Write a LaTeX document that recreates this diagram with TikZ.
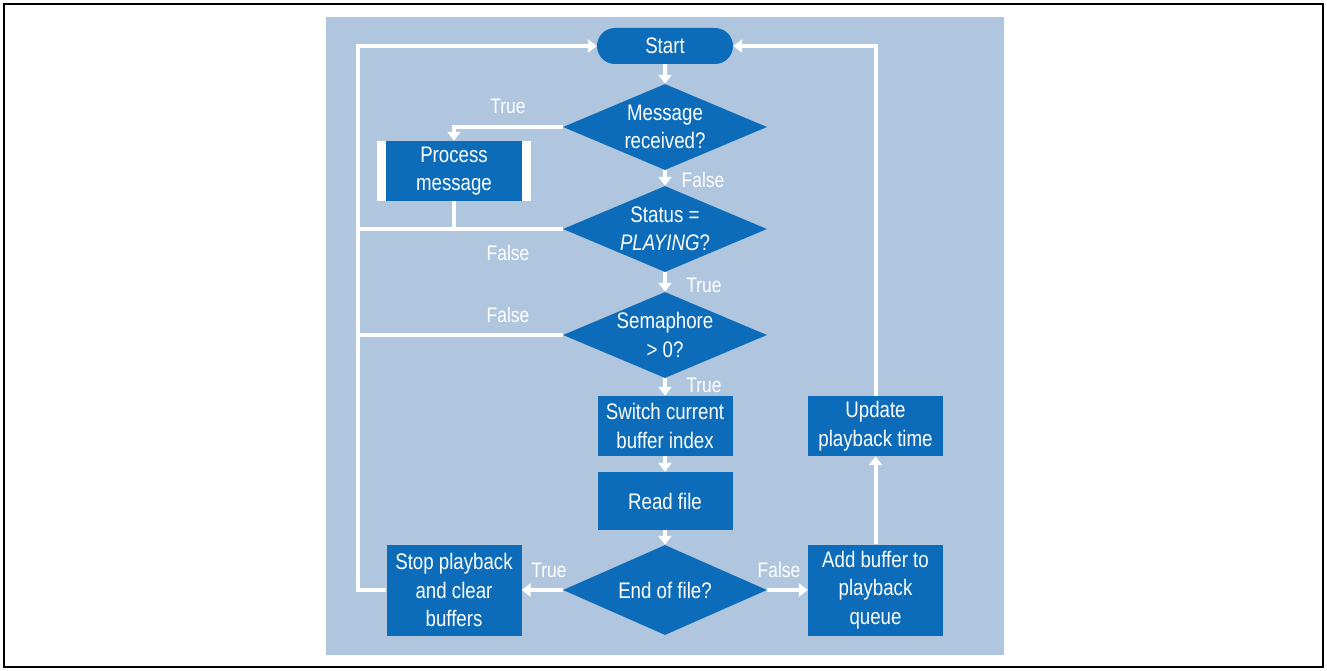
\documentclass[tikz,border=0pt]{standalone}
\usepackage{fontspec}
\setmainfont{Liberation Sans}
\newfontfamily\narrowsans[FakeStretch=0.83]{Liberation Sans}
\usepackage{tikz}
\usetikzlibrary{shapes.geometric,shapes.misc,arrows.meta}

\definecolor{panelblue}{RGB}{176,198,223}
\definecolor{boxblue}{RGB}{12,108,186}

\tikzset{
	flowbox/.style={rectangle, fill=boxblue, text=white, align=center, inner sep=0pt, minimum width=135pt, minimum height=60pt},
	decision/.style={diamond, fill=boxblue, text=white, align=center, inner sep=-4pt, aspect=2.3, minimum width=204pt, minimum height=86pt},
	terminal/.style={rounded rectangle, fill=boxblue, text=white, inner sep=0pt, minimum width=136pt, minimum height=36pt},
	subproc/.style={rectangle, fill=white, text=white, align=center, inner sep=0pt, minimum width=154pt, minimum height=60pt,
		path picture={\fill[boxblue] ([xshift=9pt]path picture bounding box.south west) rectangle ([xshift=-9pt]path picture bounding box.north east);}},
	flowlabel/.style={text=white, font=\narrowsans\fontsize{21}{22}\selectfont, inner sep=0pt},
	flowline/.style={white, line width=4pt, >={Triangle[width=13pt,length=9pt]}},
}

\begin{document}
\begin{tikzpicture}[x=1pt,y=-1pt,font=\narrowsans\fontsize{22.5}{28.5}\selectfont]
		\useasboundingbox (0,0) rectangle (1327,671);
		\draw[line width=2.5pt] (4,4) rectangle (1323,667);
		\fill[panelblue] (326,17) rectangle (1004,655);
		%
		\node[terminal] (start) at (665,46) {Start};
		\node[decision] (msg) at (665,127) {Message\\received?};
		\node[subproc] (proc) at (454,171) {Process\\message};
		\node[decision] (status) at (665,229) {Status =\\\textit{PLAYING}?};
		\node[decision] (sema) at (665,335) {Semaphore\\> 0?};
		\node[flowbox] (switch) at (665,426) {Switch current\\buffer index};
		\node[flowbox, minimum height=58pt] (read) at (665,501) {Read file};
		\node[decision, minimum height=90pt] (eof) at (665,590) {End of file?};
		\node[flowbox, minimum height=91pt] (stop) at (454,590) {Stop playback\\and clear\\buffers};
		\node[flowbox, minimum height=91pt] (add) at (875.5,590) {Add buffer to\\playback\\queue};
		\node[flowbox] (update) at (875.5,426) {Update\\playback time};
		%
		\coordinate (ltop) at (357.5,46);
		\coordinate (rtop) at (875.5,46);
		%
		\node[flowlabel] (t1) at (508,106) {True};
		\node[flowlabel] (f1) at (703,180) {False};
		\node[flowlabel] (f2) at (508,253) {False};
		\node[flowlabel] (t2) at (704,285) {True};
		\node[flowlabel] (f3) at (508,315) {False};
		\node[flowlabel] (t3) at (704,385) {True};
		\node[flowlabel] (t4) at (549,570) {True};
		\node[flowlabel] (f4) at (779,570) {False};
		%
		\path[->,flowline]
		(start) edge (msg)
		(msg) edge (status)
		(status) edge (sema)
		(sema) edge (switch)
		(switch) edge (read)
		(read) edge (eof)
		(eof) edge (stop)
		(eof) edge (add)
		(add) edge (update);
		%
		\draw[->,flowline] (msg.west) -| (proc.north);
		\draw[flowline] (proc.south) -- (proc.south |- status.west);
		\draw[flowline] (status.west) -- (status.west -| ltop);
		\draw[flowline] (sema.west) -- (sema.west -| ltop);
		\draw[->,flowline] (stop.west) -- (stop.west -| ltop) -- (ltop) -- (start.west);
		\draw[->,flowline] (update.north) -- (rtop) -- (start.east);
\end{tikzpicture}
\end{document}
